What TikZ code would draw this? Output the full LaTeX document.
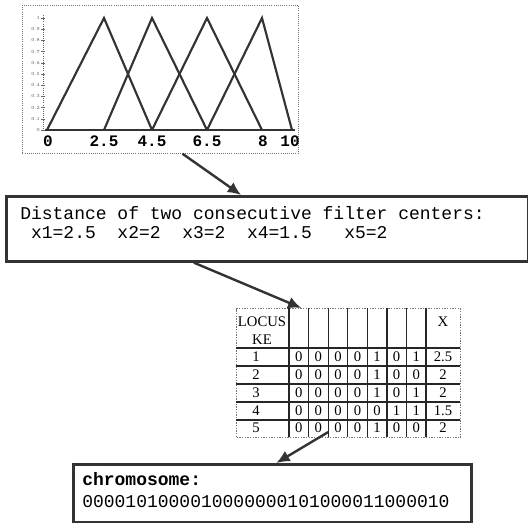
\documentclass[tikz,border=0pt]{standalone}
\usepackage{fontspec}
\setmonofont{Liberation Mono}
\newfontfamily\tabfont{Liberation Serif}
\usetikzlibrary{arrows.meta,positioning,calc}
\tikzset{
  >={Latex[length=10pt,width=9pt]},
  frame/.style={rectangle, draw=black!80, line width=2pt, inner sep=0pt, anchor=north west},
  flow/.style={->, line width=1.8pt, draw=black!80},
  txt/.style={inner sep=0pt, anchor=base west, font=\ttfamily\fontsize{13.5}{16}\selectfont},
  memb/.style={line width=1.6pt, draw=black!80, line join=miter}
}
\begin{document}
\begin{tikzpicture}[x=0.75pt, y=-0.75pt,
    tick label/.style={inner sep=0pt, anchor=base, font=\ttfamily\bfseries\fontsize{12}{13}\selectfont},
    axis label/.style={inner sep=0pt, anchor=east, font=\fontsize{3.5}{4}\selectfont, text=black!70},
    cell/.style={inner sep=0pt, font=\tabfont\fontsize{11}{12}\selectfont},
    grid line/.style={line width=0.9pt, draw=black!85}
]
\useasboundingbox (0,0) rectangle (528,523);

% --- Membership functions ---
\node[frame, draw=black!55, line width=0.6pt, densely dotted, minimum width=207pt, minimum height=111pt] (plotbox) at (22,5) {};
\draw[black!60, densely dotted, line width=0.6pt] (43,15) -- (43,130);
\foreach \v [count=\k from 0] in {0,0.1,0.2,0.3,0.4,0.5,0.6,0.7,0.8,0.9,1} {
    \node[axis label] (ylab\k) at (40,{130-\k*11.2}) {\v};
    \draw[black!60, line width=0.4pt] (41,{130-\k*11.2}) -- (45,{130-\k*11.2});
}
\foreach \a/\b/\c in {47/104/152, 104/152/207, 152/207/262, 207/262/292}
    \draw[memb] (\a,130) -- (\b,18) -- (\c,130);
\draw[memb] (45,130) -- (295,130);
\foreach \x/\t [count=\n] in {48/0, 104/2.5, 152/4.5, 207/6.5, 263/8, 290/10}
    \node[tick label] (xlab\n) at (\x,147) {\t};

% --- Distances ---
\node[frame, minimum width=391.5pt, minimum height=48.75pt] (distbox) at (5,195) {};
\node[txt] (distline1) at (20,220) {Distance of two consecutive filter centers:};
\node[txt] (distline2) at (20,239) {\ x1=2.5\ \ x2=2\ \ x3=2\ \ x4=1.5\ \ \ x5=2};

% --- Locus table ---
\node[frame, draw=black!55, line width=1pt, densely dotted, minimum width=168pt, minimum height=96.75pt] (locustab) at (236,308) {};
\foreach \x in {289,308.6,328.1,347.7,367.3,386.9,406.4,426}
    \draw[grid line] (\x,308) -- (\x,437);
\draw[grid line, line width=1.6pt] (236,348) -- (460,348);
\foreach \y in {366,384,402,420}
    \draw[grid line] (236,\y) -- (460,\y);
\node[cell, anchor=base] (headkey) at (262,327) {LOCUS};
\node[cell, anchor=base] (headkey2) at (262,345) {KE};
\node[cell, anchor=base] (headx) at (443,327) {X};
\foreach \row [count=\r] in {{0,0,0,0,1,0,1},{0,0,0,0,1,0,0},{0,0,0,0,1,0,1},{0,0,0,0,0,1,1},{0,0,0,0,1,0,0}} {
    \node[cell] (key-\r) at (256,{348+(\r-0.5)*17.8}) {\r};
    \foreach \b [count=\c] in \row
        \node[cell] (cell-\r-\c) at ({289+(\c-0.5)*19.57},{348+(\r-0.5)*17.8}) {\b};
}
\foreach \v [count=\r] in {2.5,2,2,1.5,2}
    \node[cell] (xval-\r) at (443,{348+(\r-0.5)*17.8}) {\v};

% --- Chromosome ---
\node[frame, minimum width=298.5pt, minimum height=43.5pt] (chrombox) at (72,463) {};
\node[txt, font=\ttfamily\bfseries\fontsize{13.5}{16}\selectfont] (chromhead) at (82,485) {chromosome:};
\node[txt] (chrombits) at (82,507) {0000101000010000000101000011000010};

% --- Arrows ---
\draw[flow] ($(plotbox.south west)!0.58!(plotbox.south east)$) -- ($(distbox.north west)!0.45!(distbox.north east)$);
\draw[flow] ($(distbox.south west)!0.36!(distbox.south east)$) -- ($(locustab.north west)!0.29!(locustab.north east)$);
\draw[flow] ($($(cell-5-2)!0.5!(cell-5-3)$)+(0,4)$) -- ($(chrombox.north west)!0.51!(chrombox.north east)$);

\end{tikzpicture}
\end{document}
